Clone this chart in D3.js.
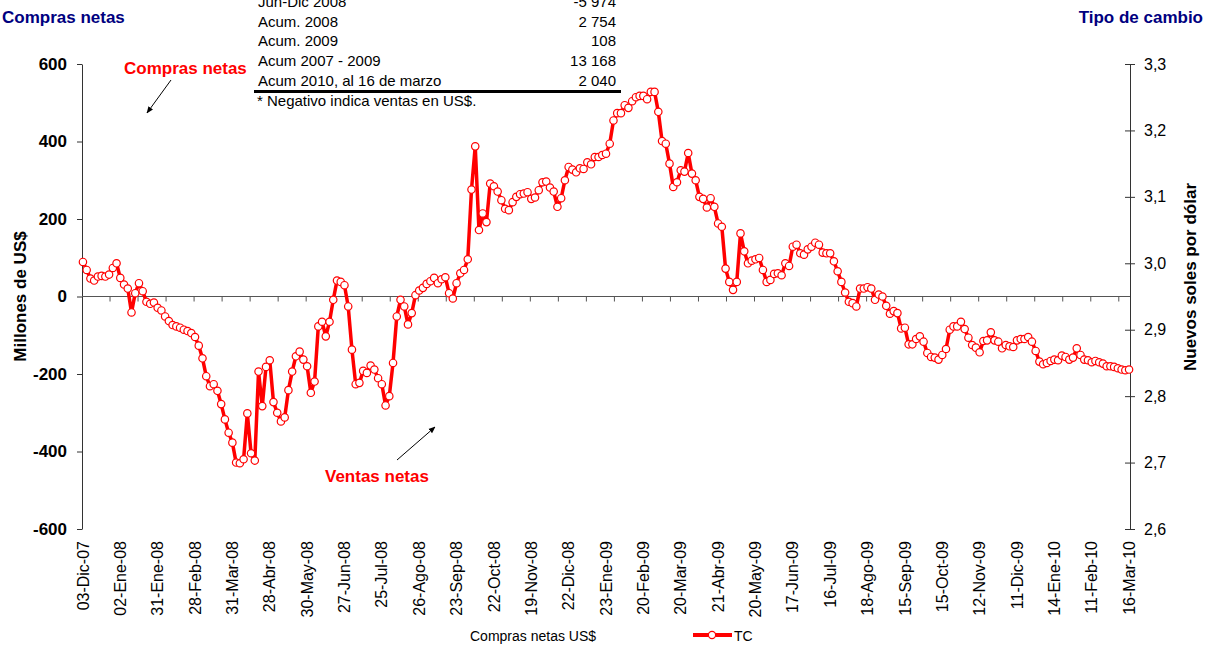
<!DOCTYPE html>
<html>
<head>
<meta charset="utf-8">
<script src="https://cdn.jsdelivr.net/npm/d3@7"></script>
<style>
  body { margin: 0; background: #fff; }
  svg text { font-family: "Liberation Sans", Arial, sans-serif; }
</style>
</head>
<body>
<svg id="chart" width="1211" height="648"></svg>
<script>
//-------------------------------------------------
// Data (tipo de cambio, one value every 2 trading days)
//-------------------------------------------------
var dateLabels = ["03-Dic-07","02-Ene-08","31-Ene-08","28-Feb-08","31-Mar-08","28-Abr-08","30-May-08",
  "27-Jun-08","25-Jul-08","26-Ago-08","23-Sep-08","22-Oct-08","19-Nov-08","22-Dic-08","23-Ene-09",
  "20-Feb-09","20-Mar-09","21-Abr-09","20-May-09","17-Jun-09","16-Jul-09","18-Ago-09","15-Sep-09",
  "15-Oct-09","12-Nov-09","11-Dic-09","14-Ene-10","11-Feb-10","16-Mar-10"];

var tc = [
  3.002,2.990,2.977,2.974,2.980,2.981,2.980,2.983,2.993,3.000,
  2.978,2.968,2.962,2.926,2.955,2.970,2.958,2.942,2.939,2.941,
  2.933,2.929,2.920,2.913,2.907,2.905,2.903,2.900,2.898,2.895,
  2.889,2.876,2.857,2.830,2.815,2.818,2.808,2.788,2.765,2.745,
  2.730,2.700,2.699,2.705,2.774,2.714,2.703,2.837,2.785,2.844,
  2.854,2.791,2.775,2.762,2.768,2.809,2.837,2.860,2.867,2.855,
  2.845,2.805,2.822,2.905,2.912,2.890,2.912,2.945,2.974,2.972,
  2.967,2.935,2.870,2.818,2.820,2.838,2.835,2.846,2.840,2.827,
  2.818,2.786,2.800,2.850,2.920,2.945,2.935,2.908,2.925,2.952,
  2.959,2.963,2.969,2.973,2.978,2.970,2.976,2.979,2.955,2.947,
  2.970,2.985,2.990,3.006,3.111,3.176,3.050,3.075,3.062,3.120,
  3.116,3.108,3.095,3.082,3.080,3.092,3.100,3.104,3.105,3.107,
  3.097,3.099,3.110,3.122,3.123,3.114,3.108,3.085,3.098,3.125,
  3.145,3.141,3.137,3.143,3.142,3.152,3.149,3.160,3.160,3.163,
  3.165,3.180,3.215,3.226,3.226,3.238,3.234,3.244,3.250,3.252,
  3.252,3.247,3.258,3.258,3.228,3.184,3.180,3.150,3.115,3.122,
  3.140,3.138,3.166,3.135,3.125,3.100,3.097,3.084,3.098,3.085,
  3.060,3.055,2.992,2.972,2.960,2.972,3.045,3.018,3.000,3.004,
  3.006,3.008,2.990,2.972,2.975,2.984,2.985,2.982,3.000,2.996,
  3.025,3.028,3.015,3.013,3.021,3.025,3.031,3.028,3.016,3.015,
  3.015,3.003,2.988,2.972,2.956,2.942,2.940,2.935,2.962,2.962,
  2.964,2.962,2.945,2.953,2.950,2.936,2.924,2.928,2.925,2.902,
  2.903,2.878,2.878,2.886,2.890,2.882,2.865,2.859,2.858,2.855,
  2.862,2.871,2.900,2.905,2.905,2.912,2.901,2.888,2.877,2.873,
  2.866,2.883,2.884,2.896,2.884,2.882,2.872,2.877,2.875,2.874,
  2.884,2.886,2.886,2.889,2.882,2.868,2.852,2.848,2.850,2.853,
  2.855,2.854,2.861,2.859,2.855,2.858,2.872,2.862,2.855,2.854,
  2.851,2.853,2.851,2.849,2.845,2.845,2.844,2.842,2.840,2.839,
  2.840
];

var leftTicks = [-600,-400,-200,0,200,400,600];
var rightTicks = [2.6,2.7,2.8,2.9,3.0,3.1,3.2,3.3];

var tableNames = ["Jun-Dic 2008","Acum. 2008","Acum. 2009","Acum 2007 - 2009","Acum 2010, al 16 de marzo"];
var tableValues = ["-5 974","2 754","108","13 168","2 040"];

//-------------------------------------------------
var totalDays = 561, step = 2, labelEvery = 20, tickEvery = 15;
var plot = {left: 82, right: 1130, top: 64, bottom: 529};
var red = "#ff0000", navy = "#000080";

var svg = d3.select("#chart");

var x = d3.scaleLinear().domain([0, totalDays]).range([plot.left, plot.right]);
var yL = d3.scaleLinear().domain([-600, 600]).range([plot.bottom, plot.top]);
var yR = d3.scaleLinear().domain([2.6, 3.3]).range([plot.bottom, plot.top]);
var fmtR = function(d){ return d3.format(".1f")(d).replace(".", ","); };

var defs = svg.append("defs");
defs.append("marker")
  .attr("id", "arrow")
  .attr("viewBox", "0 0 10 10")
  .attr("refX", 9).attr("refY", 5)
  .attr("markerWidth", 7).attr("markerHeight", 7)
  .attr("orient", "auto")
  .append("path")
  .attr("d", "M0,1 L10,5 L0,9 z")
  .attr("fill", "#000");

// left axis
var leftAxis = svg.append("g")
  .attr("transform", "translate(" + plot.left + ",0)")
  .call(d3.axisLeft(yL).tickValues(leftTicks).tickFormat(function(d){ return String(d); })
    .tickSize(5).tickSizeOuter(0).tickPadding(10));
leftAxis.selectAll("text").attr("font-size", 17).attr("font-weight", "bold").attr("fill", "#000");
leftAxis.selectAll("line,path").attr("stroke", "#333");

// right axis (cross ticks)
var rightAxis = svg.append("g")
  .attr("transform", "translate(" + plot.right + ",0)")
  .call(d3.axisRight(yR).tickValues(rightTicks).tickFormat(fmtR).tickSize(5).tickSizeOuter(0).tickPadding(9));
rightAxis.selectAll(".tick line").attr("x1", -5);
rightAxis.selectAll("text").attr("font-size", 16).attr("fill", "#000");
rightAxis.selectAll("line,path").attr("stroke", "#333");

// category axis on the zero line
var zeroY = yL(0);
svg.append("line")
  .attr("x1", plot.left).attr("x2", plot.right)
  .attr("y1", zeroY).attr("y2", zeroY)
  .attr("stroke", "#555").attr("stroke-width", 1.2);
svg.selectAll(".xtick")
  .data(d3.range(tickEvery, totalDays + 1, tickEvery))
  .enter().append("line")
  .attr("class", "xtick")
  .attr("x1", function(d){ return x(d); }).attr("x2", function(d){ return x(d); })
  .attr("y1", zeroY).attr("y2", zeroY + 5)
  .attr("stroke", "#555");

svg.selectAll(".xlabel")
  .data(dateLabels)
  .enter().append("text")
  .attr("class", "xlabel")
  .attr("transform", function(d, i){
    return "translate(" + x(i * labelEvery + 0.5) + "," + (plot.bottom + 12) + ") rotate(-90)";
  })
  .attr("dy", "0.35em")
  .attr("text-anchor", "end")
  .attr("font-size", 16)
  .text(function(d){ return d; });

// TC line + markers
var line = d3.line()
  .x(function(d, i){ return x(i * step + 0.5); })
  .y(function(d){ return yR(d); });

svg.append("path")
  .datum(tc)
  .attr("d", line)
  .attr("fill", "none")
  .attr("stroke", red)
  .attr("stroke-width", 3.5)
  .attr("stroke-linejoin", "round");

svg.selectAll(".dot")
  .data(tc)
  .enter().append("circle")
  .attr("class", "dot")
  .attr("cx", function(d, i){ return x(i * step + 0.5); })
  .attr("cy", function(d){ return yR(d); })
  .attr("r", 3.7)
  .attr("fill", "#fff")
  .attr("stroke", red)
  .attr("stroke-width", 1.2);

// titles
svg.append("text").attr("x", 2).attr("y", 23)
  .attr("font-size", 17).attr("font-weight", "bold").attr("fill", navy)
  .text("Compras netas");
svg.append("text").attr("x", 1203).attr("y", 23).attr("text-anchor", "end")
  .attr("font-size", 17).attr("font-weight", "bold").attr("fill", navy)
  .text("Tipo de cambio");

svg.append("text")
  .attr("transform", "translate(26," + ((plot.top + plot.bottom) / 2) + ") rotate(-90)")
  .attr("text-anchor", "middle")
  .attr("font-size", 17).attr("font-weight", "bold")
  .text("Millones de US$");
svg.append("text")
  .attr("transform", "translate(1196,277) rotate(-90)")
  .attr("text-anchor", "middle")
  .attr("font-size", 17).attr("font-weight", "bold")
  .text("Nuevos soles por dólar");

// summary table
var table = svg.append("g").attr("font-size", 15);
tableNames.forEach(function(name, i){
  var yy = 7 + i * 19.7;
  table.append("text").attr("x", 258).attr("y", yy).text(name);
  table.append("text").attr("x", 616).attr("y", yy).attr("text-anchor", "end").text(tableValues[i]);
});
table.append("line")
  .attr("x1", 254).attr("x2", 621).attr("y1", 91.5).attr("y2", 91.5)
  .attr("stroke", "#000").attr("stroke-width", 3);
table.append("text").attr("x", 257).attr("y", 106).text("* Negativo indica ventas en US$.");

// annotations
svg.append("text").attr("x", 124).attr("y", 74)
  .attr("font-size", 17).attr("font-weight", "bold").attr("fill", red)
  .text("Compras netas");
svg.append("line")
  .attr("x1", 171).attr("y1", 80).attr("x2", 147).attr("y2", 113)
  .attr("stroke", "#000").attr("stroke-width", 1)
  .attr("marker-end", "url(#arrow)");

svg.append("text").attr("x", 325).attr("y", 482)
  .attr("font-size", 17).attr("font-weight", "bold").attr("fill", red)
  .text("Ventas netas");
svg.append("line")
  .attr("x1", 397).attr("y1", 460).attr("x2", 435).attr("y2", 427)
  .attr("stroke", "#000").attr("stroke-width", 1)
  .attr("marker-end", "url(#arrow)");

// legend
svg.append("text").attr("x", 470).attr("y", 641).attr("font-size", 14)
  .text("Compras netas US$");
svg.append("line")
  .attr("x1", 693).attr("x2", 732).attr("y1", 635).attr("y2", 635)
  .attr("stroke", red).attr("stroke-width", 4);
svg.append("circle").attr("cx", 712).attr("cy", 635).attr("r", 3.6)
  .attr("fill", "#fff").attr("stroke", red).attr("stroke-width", 1.2);
svg.append("text").attr("x", 734).attr("y", 641).attr("font-size", 14).text("TC");
</script>
</body>
</html>
